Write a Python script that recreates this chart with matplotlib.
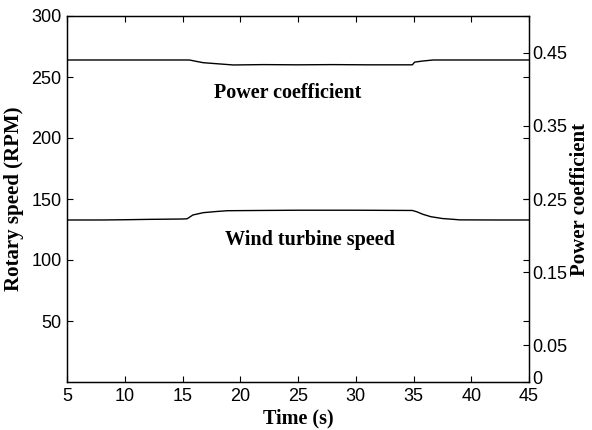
import matplotlib
matplotlib.use("Agg")
import matplotlib.pyplot as plt
import matplotlib.transforms as mtransforms

# Wind turbine rotary speed (RPM)
speed_t = [5, 8, 10, 12, 15, 15.4, 15.9, 16.8, 18.0, 18.9, 21.7, 25, 30, 34.9, 35.3, 35.8, 36.5, 37.5, 38.5, 39, 42, 45]
speed_v = [132.8, 132.8, 133.0, 133.3, 133.6, 133.8, 136.9, 138.8, 139.8, 140.4, 140.6, 140.8, 140.8, 140.6, 139.5, 137.5, 135.5, 134.0, 133.3, 132.9, 132.8, 132.8]

# Power coefficient
cp_t = [5, 10, 15.6, 16.2, 16.8, 17.8, 19.4, 22, 25, 28, 31, 34.9, 35.1, 35.8, 36.7, 40, 45]
cp_v = [0.4399, 0.4399, 0.4399, 0.4380, 0.4362, 0.4350, 0.4331, 0.4336, 0.4333, 0.4336, 0.4333, 0.4333, 0.4370, 0.4385, 0.4399, 0.4399, 0.4399]

x_ticks = [5, 10, 15, 20, 25, 30, 35, 40, 45]
left_ticks = [50, 100, 150, 200, 250, 300]
right_ticks = [0, 0.05, 0.15, 0.25, 0.35, 0.45]
right_labels = ["0", "0.05", "0.15", "0.25", "0.35", "0.45"]

serif = ["Liberation Serif", "DejaVu Serif"]
sans = ["Liberation Sans", "DejaVu Sans"]

fig = plt.figure(figsize=(5.92, 4.30), dpi=100)
ax = fig.add_axes([67/592, 1-382/430, (529-67)/592, (382-16)/430])
ax2 = ax.twinx()

ax.plot(speed_t, speed_v, color="black", lw=1.0)
ax2.plot(cp_t, cp_v, color="black", lw=1.0)

ax.set_xlim(5, 45)
ax.set_ylim(0, 300)
ax2.set_ylim(0, 0.5)

ax.set_xticks(x_ticks)
ax.set_yticks(left_ticks)
ax2.set_yticks(right_ticks)
ax2.set_yticklabels(right_labels)

ax.tick_params(direction="in", top=True, right=True, length=4, width=0.8,
               labelsize=13, pad=4)
ax2.tick_params(direction="in", length=4, width=0.8, labelsize=13, pad=2)
for lab in ax.get_xticklabels() + ax.get_yticklabels() + ax2.get_yticklabels():
    lab.set_family(sans)

# nudge the right-axis "0" label slightly upward so it clears the "45"
zero_lab = ax2.get_yticklabels()[0]
zero_lab.set_transform(zero_lab.get_transform() +
                       mtransforms.ScaledTranslation(0, 4/100, fig.dpi_scale_trans))

for a in (ax, ax2):
    for s in a.spines.values():
        s.set_linewidth(0.9)

ax.set_xlabel("Time (s)", fontfamily=serif, fontweight="bold", fontsize=14.5, labelpad=3)
ax.set_ylabel("Rotary speed (RPM)", fontfamily=serif, fontweight="bold", fontsize=15, labelpad=5)
ax2.set_ylabel("Power coefficient", fontfamily=serif, fontweight="bold", fontsize=15)
ax2.yaxis.set_label_coords((580 - 67) / 462, 0.5)
ax2.yaxis.label.set_verticalalignment("center")
ax2.yaxis.label.set_horizontalalignment("center")
ax2.yaxis.label.set_rotation_mode("default")

ax.text(24.1, 236.9, "Power coefficient", fontfamily=serif, fontweight="bold",
        fontsize=14.5, ha="center", va="center")
ax.text(26.0, 116.4, "Wind turbine speed", fontfamily=serif, fontweight="bold",
        fontsize=14.5, ha="center", va="center")

fig.savefig("out.png", dpi=100)
